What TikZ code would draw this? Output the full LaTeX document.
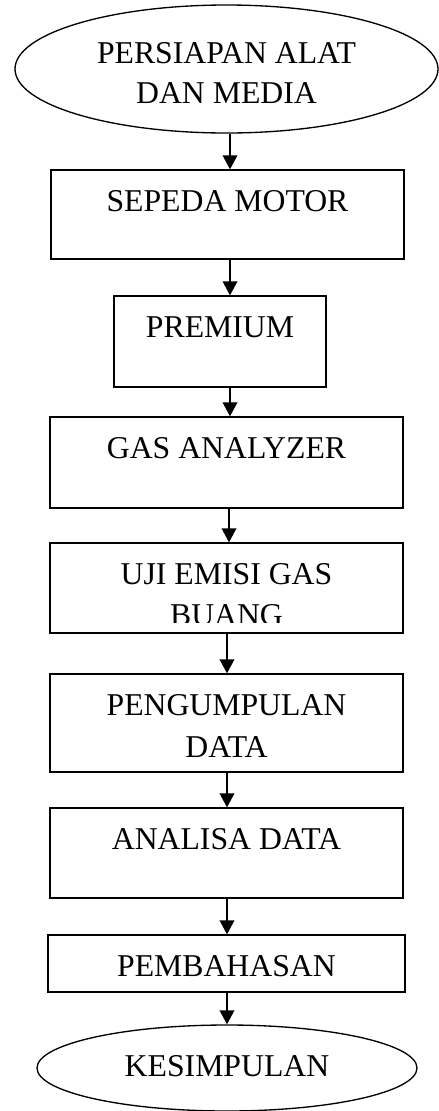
\documentclass[tikz,border=0pt]{standalone}
\usepackage{fontspec}
\setmainfont{Liberation Serif}
\usepackage{adjustbox}
\usepackage{tikz}
\usetikzlibrary{arrows.meta}
\usetikzlibrary{shapes.geometric}

\begin{document}
\begin{tikzpicture}[x=0.75pt, y=-0.75pt,
        box/.style={draw, line width=1pt, inner sep=0pt, minimum width=264.75pt, text height=30.75pt, align=center, font=\fontsize{23.8pt}{31.5pt}\selectfont},
        oval/.style={draw, ellipse, line width=1pt, inner sep=0pt, align=center, font=\fontsize{23.8pt}{30pt}\selectfont},
        arrow/.style={-{Triangle[length=10.5pt, width=11pt]}, line width=1pt}
      ]
        \useasboundingbox (0,0) rectangle (439,1111);
        \coordinate (upper) at (230,0);
        \coordinate (lower) at (227,0);
        \node[oval, minimum width=317.25pt, minimum height=96pt, text height=51pt, text depth=0pt] (persiapan) at (226.5,69) {PERSIAPAN ALAT\\DAN MEDIA};
        \node[box, text depth=36pt] (motor) at (227.5,214.5) {SEPEDA MOTOR};
        \node[box, minimum width=159pt, text depth=37.5pt] (premium) at (220,341.5) {PREMIUM};
        \node[box, text depth=37.5pt] (analyzer) at (226.5,462.5) {GAS ANALYZER};
        \node[box, text height=62.25pt, text depth=5.25pt] (uji) at (226.5,588) {UJI EMISI GAS\\\raisebox{2.6pt}{\clipbox{0pt 2.6pt 0pt 0pt}{BUANG}}};
        \node[box, text height=62.25pt, text depth=11.25pt] (pengumpulan) at (226.5,723) {PENGUMPULAN\\DATA};
        \node[box, text depth=36.75pt] (analisa) at (226.5,853) {ANALISA DATA};
        \node[box, minimum width=267.75pt, text depth=12pt] (pembahasan) at (226.5,963.5) {PEMBAHASAN};
        \node[oval, minimum width=285pt, minimum height=64.5pt, text height=15pt, text depth=3pt] (kesimpulan) at (227,1068) {KESIMPULAN};
        \draw[arrow] (persiapan.south -| upper) -- (motor.north -| upper);
        \draw[arrow] (motor.south -| upper) -- (premium.north -| upper);
        \draw[arrow] (premium.south -| upper) -- (analyzer.north -| upper);
        \draw[arrow] ([xshift=-0.75pt]analyzer.south -| upper) -- ([xshift=-0.75pt]uji.north -| upper);
        \draw[arrow] (uji.south -| lower) -- (pengumpulan.north -| lower);
        \draw[arrow] (pengumpulan.south -| lower) -- (analisa.north -| lower);
        \draw[arrow] (analisa.south -| lower) -- (pembahasan.north -| lower);
        \draw[arrow] (pembahasan.south -| lower) -- (kesimpulan.north -| lower);
      \end{tikzpicture}
\end{document}
